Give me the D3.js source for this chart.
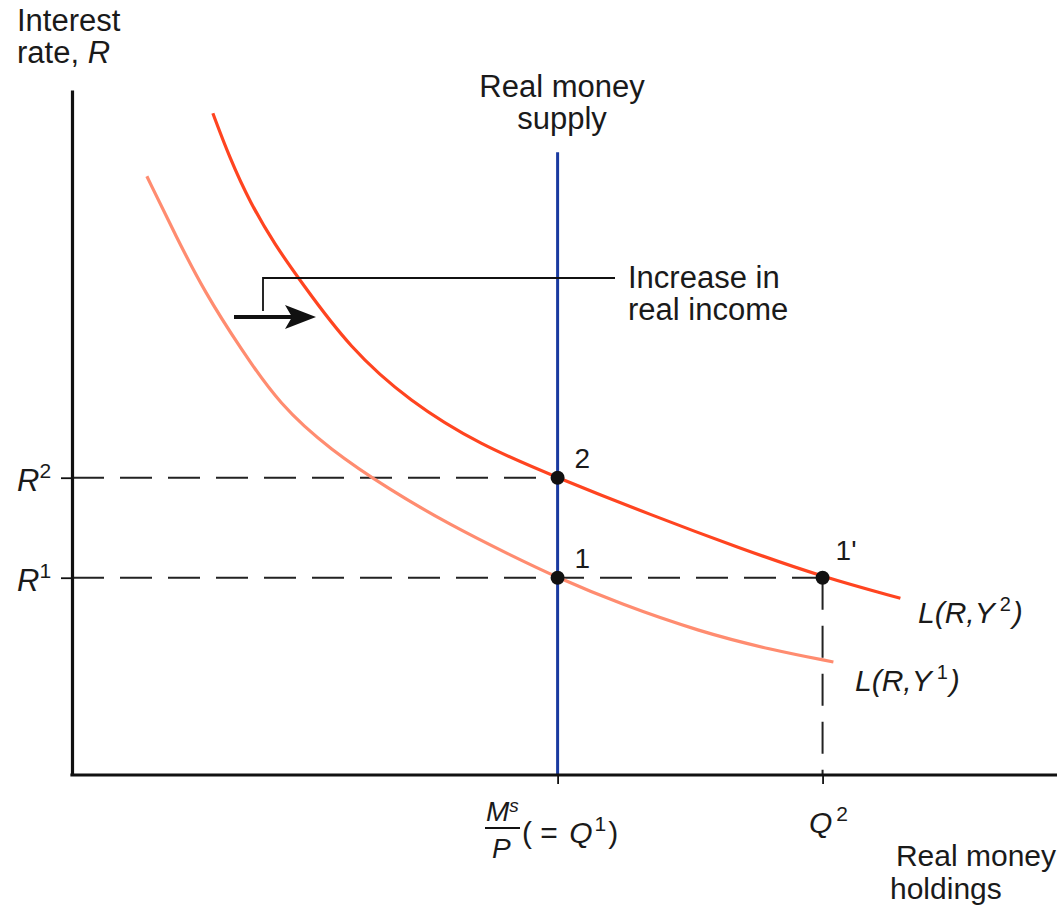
<!DOCTYPE html>
<html>
<head>
<meta charset="utf-8">
<script src="https://cdn.jsdelivr.net/npm/d3@7"></script>
<style>
  body { margin: 0; background: #fff; }
  text { font-family: "Liberation Sans", Arial, Helvetica, sans-serif; fill: #1a1a1a; }
  .it { font-style: italic; }
</style>
</head>
<body>
<div id="vis"></div>
<script>
// money demand curves (quantity, interest rate)
var demandLow = [
  [7.6, 87.4], [10.5, 78.8], [13.5, 70.4], [17.1, 62.3], [21.1, 54.0],
  [26.2, 47.5], [32.3, 41.6], [38.4, 36.5], [44.5, 32.1], [49.3, 28.8],
  [55.6, 25.0], [63.8, 20.9], [70.9, 18.3], [77.3, 16.5]
];
var demandHigh = [
  [14.3, 96.6], [16.0, 90.1], [18.1, 83.5], [20.6, 77.4], [23.2, 72.1],
  [28.2, 62.3], [34.3, 54.5], [41.4, 48.2], [49.3, 43.4], [58.7, 38.0],
  [67.8, 33.1], [76.2, 28.9], [84.1, 25.8]
];
var qLevels = [49.3, 76.2];     // Q1 (= Ms/P), Q2
var rLevels = [28.8, 43.4];     // R1, R2
var supplyTop = 90.9;           // top of the real money supply line
var equilibria = [
  { q: 49.3, r: 43.4, label: '2' },
  { q: 49.3, r: 28.8, label: '1' },
  { q: 76.2, r: 28.8, label: "1'" }
];

var width = 1059;
var height = 906;

var x = d3.scaleLinear().domain([0, 100]).range([72, 1057]);
var y = d3.scaleLinear().domain([0, 100]).range([775, 90]);

var svg = d3.select('#vis').append('svg')
  .attr('width', width)
  .attr('height', height);

var line = d3.line()
  .x(function(d) { return x(d[0]); })
  .y(function(d) { return y(d[1]); })
  .curve(d3.curveBasis);

// dashed guide lines
svg.selectAll('.guide-h')
  .data(rLevels)
  .enter().append('line')
  .attr('class', 'guide-h')
  .attr('x1', x(0)).attr('x2', function(d, i) { return x(qLevels[i === 0 ? 1 : 0]); })
  .attr('y1', function(d) { return y(d); })
  .attr('y2', function(d) { return y(d); })
  .attr('stroke', '#222').attr('stroke-width', 2)
  .attr('stroke-dasharray', '32,16');

svg.append('line')
  .attr('x1', x(qLevels[1])).attr('x2', x(qLevels[1]))
  .attr('y1', y(rLevels[0])).attr('y2', y(0))
  .attr('stroke', '#222').attr('stroke-width', 2)
  .attr('stroke-dasharray', '32,16');

// demand curves
svg.append('path')
  .datum(demandLow)
  .attr('d', line)
  .attr('fill', 'none')
  .attr('stroke', '#ff8c70')
  .attr('stroke-width', 3.2);

svg.append('path')
  .datum(demandHigh)
  .attr('d', line)
  .attr('fill', 'none')
  .attr('stroke', '#ff4420')
  .attr('stroke-width', 3.2);

// real money supply
svg.append('line')
  .attr('x1', x(qLevels[0])).attr('x2', x(qLevels[0]))
  .attr('y1', y(supplyTop)).attr('y2', y(0))
  .attr('stroke', '#1a3aa0').attr('stroke-width', 3);

// axes
var xAxis = d3.axisBottom(x).tickValues(qLevels).tickSize(9).tickSizeOuter(0).tickFormat('');
var yAxis = d3.axisLeft(y).tickValues(rLevels).tickSize(11).tickSizeOuter(0).tickFormat('');

var gx = svg.append('g').attr('transform', 'translate(0,' + y(0) + ')').call(xAxis);
var gy = svg.append('g').attr('transform', 'translate(' + x(0) + ',0)').call(yAxis);
[gx, gy].forEach(function(g) {
  g.select('.domain').attr('stroke', '#111').attr('stroke-width', 3.2);
  g.selectAll('.tick line').attr('stroke', '#111').attr('stroke-width', 1.8);
});
gx.select('.domain').attr('d', 'M' + (x(0) - 1.6) + ',0H' + x(100));

// equilibrium points
svg.selectAll('.pt')
  .data(equilibria)
  .enter().append('circle')
  .attr('cx', function(d) { return x(d.q); })
  .attr('cy', function(d) { return y(d.r); })
  .attr('r', 7)
  .attr('fill', '#111');

svg.selectAll('.pt-label')
  .data(equilibria)
  .enter().append('text')
  .attr('x', function(d, i) { return x(d.q) + (i === 2 ? 13 : 17); })
  .attr('y', function(d, i) { return y(d.r) - (i === 2 ? 18 : 10); })
  .attr('font-size', 28)
  .text(function(d) { return d.label; });

// axis titles
var t1 = svg.append('text').attr('x', 17).attr('y', 31).attr('font-size', 31);
t1.append('tspan').text('Interest');
var t2 = svg.append('text').attr('x', 17).attr('y', 63).attr('font-size', 31);
t2.append('tspan').text('rate, ');
t2.append('tspan').attr('class', 'it').text('R');

svg.append('text').attr('x', 562).attr('y', 97).attr('font-size', 31)
  .attr('text-anchor', 'middle').text('Real money');
svg.append('text').attr('x', 562).attr('y', 129).attr('font-size', 31)
  .attr('text-anchor', 'middle').text('supply');

svg.append('text').attr('x', 1056).attr('y', 866).attr('font-size', 30)
  .attr('text-anchor', 'end').text('Real money');
svg.append('text').attr('x', 890).attr('y', 899).attr('font-size', 30)
  .text('holdings');

// annotation: increase in real income
svg.append('path')
  .attr('d', 'M263,311V278H615')
  .attr('fill', 'none').attr('stroke', '#111').attr('stroke-width', 1.8);
svg.append('line')
  .attr('x1', 234).attr('x2', 292).attr('y1', 317).attr('y2', 317)
  .attr('stroke', '#111').attr('stroke-width', 4);
svg.append('path')
  .attr('d', 'M316,317L285,305L292,317L285,329Z')
  .attr('fill', '#111');
svg.append('text').attr('x', 628).attr('y', 288).attr('font-size', 31).text('Increase in');
svg.append('text').attr('x', 628).attr('y', 320).attr('font-size', 31).text('real income');

// R labels
rLevels.forEach(function(r, i) {
  var t = svg.append('text').attr('x', 17).attr('y', y(r) + 13).attr('font-size', 31);
  t.append('tspan').attr('class', 'it').text('R');
  t.append('tspan').attr('dy', -13).attr('font-size', 21).text(i === 0 ? '1' : '2');
});

// curve labels
function curveLabel(lx, ly, sup) {
  var t = svg.append('text').attr('x', lx).attr('y', ly).attr('font-size', 30);
  t.append('tspan').attr('class', 'it').text('L(R,Y');
  t.append('tspan').attr('dx', 5).attr('dy', -12).attr('font-size', 20).text(sup);
  t.append('tspan').attr('class', 'it').attr('dx', 2).attr('dy', 12).text(')');
}
curveLabel(918, 623, '2');
curveLabel(855, 691, '1');

// x labels
var m = svg.append('text').attr('x', 486).attr('y', 821).attr('font-size', 28);
m.append('tspan').attr('class', 'it').text('M');
m.append('tspan').attr('class', 'it').attr('dy', -9).attr('font-size', 19).text('s');
svg.append('line')
  .attr('x1', 485).attr('x2', 520).attr('y1', 828).attr('y2', 828)
  .attr('stroke', '#111').attr('stroke-width', 2);
svg.append('text').attr('class', 'it').attr('x', 492).attr('y', 858).attr('font-size', 28).text('P');
var q1 = svg.append('text').attr('x', 522).attr('y', 843).attr('font-size', 30);
q1.append('tspan').text('( = ');
q1.append('tspan').attr('class', 'it').attr('dx', 3).text('Q');
q1.append('tspan').attr('dx', 2).attr('dy', -12).attr('font-size', 21).text('1');
q1.append('tspan').attr('dx', 2).attr('dy', 12).text(')');

var q2 = svg.append('text').attr('x', 809).attr('y', 833).attr('font-size', 30);
q2.append('tspan').attr('class', 'it').text('Q');
q2.append('tspan').attr('dx', 4).attr('dy', -12).attr('font-size', 21).text('2');
</script>
</body>
</html>
